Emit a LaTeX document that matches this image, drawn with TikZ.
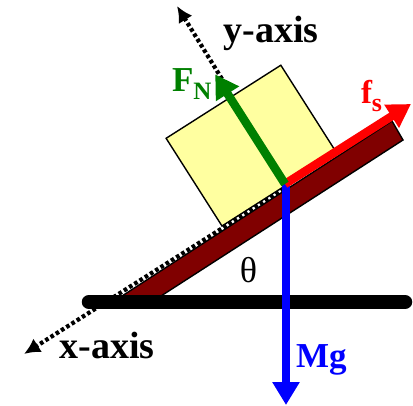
\documentclass[tikz,border=0pt]{standalone}
\usepackage{fontspec}
\setmainfont{Liberation Serif}
\usetikzlibrary{arrows.meta}
\definecolor{boxyellow}{RGB}{255,255,160}
\definecolor{plank}{RGB}{128,0,0}
\definecolor{fgreen}{RGB}{0,128,0}
\begin{document}
\begin{tikzpicture}[x=1pt,y=-1pt,
  lbl/.style={inner sep=0pt, outer sep=0pt},
  force/.style={line width=8.5pt, -{Triangle[width=26pt,length=23pt]}},
  axisdot/.style={line width=4.2pt, dash pattern=on 3.6pt off 2.6pt, -{Latex[width=16pt,length=16pt]}},
]
\useasboundingbox (0,0) rectangle (413,405);
% incline
\coordinate (pA) at (122,296);
\coordinate (pB) at (392,121);
\coordinate (pC) at (403,140);
\coordinate (pD) at (161,296);
\fill[plank, draw=black, line width=1.4pt] (pA) -- (pB) -- (pC) -- (pD) -- cycle;
% block
\coordinate (bBL) at (222,226);
\draw[fill=boxyellow, line width=1.4pt] (bBL) -- ++(-32.5:136) -- ++(-122.5:104) -- ++(147.5:136) -- cycle;
% ground
\coordinate (g1) at (89,302);
\coordinate (g2) at (405,302);
\draw[line width=14.5pt, line cap=round] (g1) -- (g2);
% axes
\coordinate (xs) at (284,189);
\coordinate (xe) at (24,354);
\draw[axisdot] (xs) -- (xe);
\coordinate (ys) at (222,79);
\coordinate (ye) at (177,6);
\draw[axisdot] (ys) -- (ye);
% forces
\coordinate (O) at (285,184);
\coordinate (Ob) at (286,182);
\coordinate (Mgtip) at (286,405);
\coordinate (FNtip) at (215.2,74.4);
\coordinate (fstip) at (411,104);
\draw[force, blue] (Ob) -- (Mgtip);
\draw[force, red] (O) -- (fstip);
\draw[force, fgreen] (O) -- (FNtip);
% labels
\node[lbl, anchor=base] (ylab) at (271,42) {\fontsize{38}{38}\selectfont\bfseries y-axis};
\node[lbl, anchor=base] (xlab) at (107,358) {\fontsize{38}{38}\selectfont\bfseries x-axis};
\node[lbl, anchor=base west, text=fgreen] (FN) at (172,91) {\bfseries\fontsize{35}{35}\selectfont F\raisebox{-8pt}{\fontsize{25}{25}\selectfont N}};
\node[lbl, anchor=base west, text=red] (fs) at (361,103) {\bfseries\fontsize{33}{33}\selectfont f\raisebox{-8pt}{\fontsize{26}{26}\selectfont s}};
\node[lbl, anchor=base west, text=blue] (Mg) at (296,367) {\bfseries\fontsize{35}{35}\selectfont Mg};
\node[lbl, anchor=base] (th) at (248.5,282) {\fontsize{36}{36}\selectfont θ};
\end{tikzpicture}
\end{document}
